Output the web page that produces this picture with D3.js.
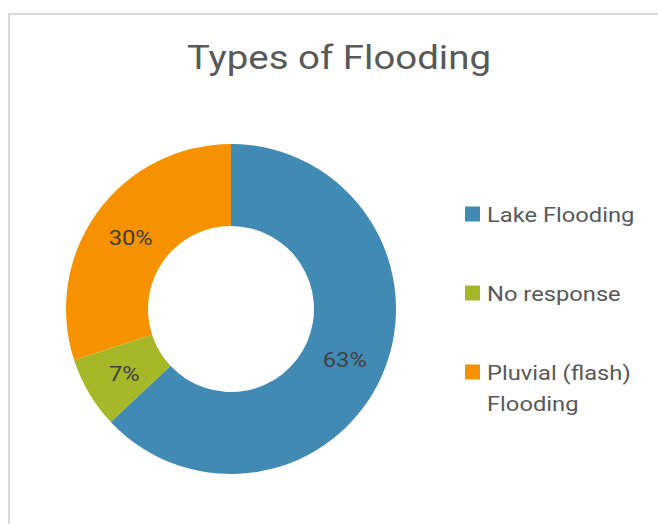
<!DOCTYPE html>
<html>
<head>
<meta charset="utf-8">
<script src="https://cdn.jsdelivr.net/npm/d3@7/dist/d3.min.js"></script>
<style>
  html, body { margin: 0; padding: 0; background: #fff; }
  svg { display: block; font-family: Roboto, "Noto Sans", sans-serif; }
</style>
</head>
<body>
<svg id="chart" width="658" height="524"></svg>
<script>
// Survey answers: types of flooding (percent of respondents)
const categories = ["Lake Flooding", "No response", "Pluvial (flash) Flooding"];
const legendLines = [["Lake Flooding"], ["No response"], ["Pluvial (flash)", "Flooding"]];
const values = [63, 7, 30];
const colors = ["#418AB3", "#A6B727", "#F69200"];
const title = "Types of Flooding";

const svg = d3.select("#chart");
const textStretch = 1.13; // wide text rendering

// Chart area frame
svg.append("rect")
  .attr("x", 9).attr("y", 14)
  .attr("width", 700).attr("height", 600)
  .attr("fill", "#fff")
  .attr("stroke", "#D9D9D9")
  .attr("stroke-width", 2);

svg.append("text")
  .attr("transform", `translate(339,69) scale(${textStretch},1)`)
  .attr("text-anchor", "middle")
  .attr("font-size", 34)
  .attr("fill", "#595959")
  .text(title);

// Doughnut
const cx = 231, cy = 309, outerR = 165, innerR = 83;
const color = d3.scaleOrdinal().domain(categories).range(colors);
const pie = d3.pie().sort(null).value(d => d.value);
const arcs = pie(categories.map((c, i) => ({ name: c, value: values[i] })));
const arc = d3.arc().innerRadius(innerR).outerRadius(outerR);
const labelArc = d3.arc().innerRadius((innerR + outerR) / 2).outerRadius((innerR + outerR) / 2);

const g = svg.append("g").attr("transform", `translate(${cx},${cy})`);
g.selectAll("path.slice")
  .data(arcs)
  .join("path")
  .attr("class", "slice")
  .attr("d", arc)
  .attr("fill", d => color(d.data.name));

const total = d3.sum(values);
g.selectAll("text.pct")
  .data(arcs)
  .join("text")
  .attr("class", "pct")
  .attr("transform", d => {
    const [x, y] = labelArc.centroid(d);
    return `translate(${x},${y + 1}) scale(${textStretch},1)`;
  })
  .attr("text-anchor", "middle")
  .attr("dy", "0.36em")
  .attr("font-size", 21)
  .attr("fill", "#404040")
  .text(d => Math.round(d.data.value / total * 100) + "%");

// Legend
const legendY = d3.scalePoint().domain(categories).range([214, 372]);
const lg = svg.append("g");
const items = lg.selectAll("g.item")
  .data(categories)
  .join("g")
  .attr("class", "item")
  .attr("transform", d => `translate(465,${legendY(d)})`);
items.append("rect")
  .attr("x", 0).attr("y", -7.5)
  .attr("width", 15).attr("height", 15)
  .attr("fill", d => color(d));
items.append("text")
  .attr("transform", `translate(22,0) scale(${textStretch},1)`)
  .attr("font-size", 21)
  .attr("fill", "#595959")
  .selectAll("tspan")
  .data((d, i) => legendLines[i])
  .join("tspan")
  .attr("x", 0)
  .attr("y", (d, j) => j * 31)
  .attr("dy", "0.36em")
  .text(d => d);
</script>
</body>
</html>
